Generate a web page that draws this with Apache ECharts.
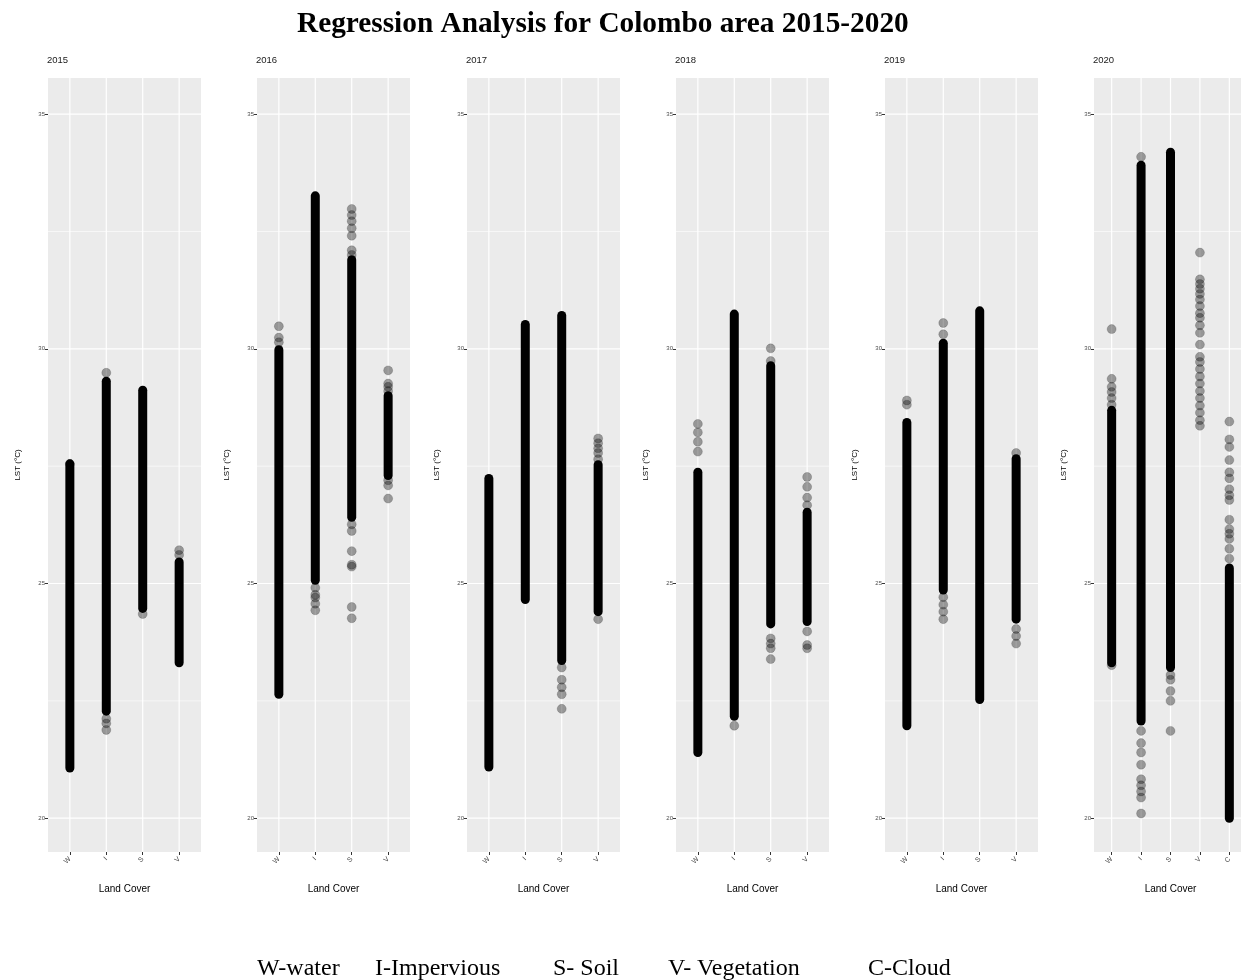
<!DOCTYPE html>
<html><head><meta charset="utf-8">
<script src="https://cdn.jsdelivr.net/npm/echarts@6/dist/echarts.min.js"></script>
<style>html,body{margin:0;padding:0;background:#fff}#c{width:1241px;height:980px}</style>
</head><body><div id="c"></div>
<script>
const mainTitle = 'Regression Analysis for Colombo area 2015-2020';
const years = ['2015','2016','2017','2018','2019','2020'];
const categories = ['W','I','S','V','C'];
const yTicks = [20,25,30,35];
const yMinor = [22.5,27.5,32.5];
const legendItems = ['W-water','I-Impervious','S- Soil','V- Vegetation','C-Cloud'];

// dense runs of points per category: [category index, lowest LST, highest LST]
const core2015 = [[1,21.07,27.55],[2,22.28,29.31],[3,24.47,29.12],[4,23.31,25.46]];
const core2016 = [[1,22.64,29.98],[2,25.07,33.26],[3,26.41,31.9],[4,27.3,29.0]];
const core2017 = [[1,21.09,27.24],[2,24.66,30.52],[3,23.36,30.71],[4,24.4,27.53]];
const core2018 = [[1,21.4,27.37],[2,22.17,30.74],[3,24.14,29.64],[4,24.19,26.52]];
const core2019 = [[1,21.97,28.43],[2,24.86,30.12],[3,22.53,30.81],[4,24.24,27.66]];
const core2020 = [[1,23.31,28.69],[2,22.07,33.91],[3,23.21,34.19],[5,20.0,25.33]];

// isolated points per category (W, I, S, V, C)
const pts2015 = [[27.55],[29.49,22.12,22.02,21.88],[24.35],[25.71,25.61]];
const pts2016 = [[30.48,30.24,30.14],[24.91,24.76,24.7,24.57,24.43],
  [32.98,32.85,32.72,32.57,32.41,32.1,32.0,26.26,26.12,25.69,25.4,25.36,24.5,24.26],
  [29.54,29.26,29.19,29.1,27.2,27.09,26.81]];
const pts2017 = [[],[],[23.21,22.95,22.79,22.64,22.33],[28.09,27.99,27.88,27.78,27.65,24.24]];
const pts2018 = [[28.4,28.22,28.02,27.81],[21.97],[30.01,29.74,23.83,23.72,23.62,23.39],
  [27.27,27.06,26.83,26.67,23.98,23.69,23.62]];
const pts2019 = [[28.9,28.81],[30.55,30.31,24.71,24.55,24.4,24.24],[],[27.78,24.03,23.88,23.72]];
const pts2020 = [[30.42,29.36,29.19,29.08,28.95,28.81,23.26],
  [34.09,21.86,21.6,21.4,21.14,20.83,20.7,20.57,20.44,20.1],
  [23.05,22.95,22.71,22.5,21.86],
  [32.05,31.48,31.38,31.28,31.17,31.05,30.91,30.76,30.66,30.5,30.34,30.09,29.83,29.72,29.57,29.41,29.26,29.1,28.95,28.79,28.64,28.48,28.36],
  [28.45,28.07,27.91,27.63,27.37,27.24,27.01,26.88,26.78,26.36,26.16,26.06,25.95,25.74,25.53]];
const catCounts = [4,4,4,4,4,5];

const cores = [core2015,core2016,core2017,core2018,core2019,core2020];
const points = [pts2015,pts2016,pts2017,pts2018,pts2019,pts2020];

const gridLefts = [48,257,467,676,885,1094];
const gridTop = 78, gridH = 774, gridW = 153;
const Y_MIN = 19.28, Y_MAX = 35.77;

const chart = echarts.init(document.getElementById('c'), null, {renderer:'canvas'});

const grids = [], xAxes = [], yAxes = [], series = [], titles = [];
titles.push({text: mainTitle, left: 297, top: 10, padding: 0,
  textStyle:{fontFamily:'Liberation Serif', fontWeight:'bold', fontSize:29.3, color:'#000'}});

years.forEach((yr, i) => {
  const n = catCounts[i];
  grids.push({left: gridLefts[i], top: gridTop, width: gridW, height: gridH,
    show: true, backgroundColor: '#EBEBEB', borderWidth: 0, outerBoundsMode: 'none', containLabel: false});
  const xVals = categories.slice(0, n).map((c, k) => k + 1);
  xAxes.push({type:'value', gridIndex:i, min:0.4, max:n + 0.6,
    name:'Land Cover', nameLocation:'middle', nameGap:32,
    nameTextStyle:{fontFamily:'Liberation Sans', fontSize:10, color:'#000'},
    axisLine:{show:false}, splitLine:{show:false},
    axisTick:{show:true, customValues:xVals, length:3, lineStyle:{color:'#333', width:1}},
    axisLabel:{show:true, customValues:xVals, rotate:45, fontSize:7, color:'#4d4d4d', margin:6,
      fontFamily:'Liberation Sans', formatter: v => categories[Math.round(v) - 1] || ''}});
  yAxes.push({type:'value', gridIndex:i, min:Y_MIN, max:Y_MAX,
    name:'LST (°C)', nameLocation:'middle', nameRotate:90, nameGap:26,
    nameTextStyle:{fontFamily:'Liberation Sans', fontSize:8, color:'#000'},
    axisLine:{show:false}, splitLine:{show:false},
    axisTick:{show:true, customValues:yTicks, length:3, lineStyle:{color:'#333', width:1}},
    axisLabel:{show:true, customValues:yTicks, fontSize:6, color:'#4d4d4d', margin:3,
      fontFamily:'Liberation Sans'}});
  titles.push({text: yr, left: gridLefts[i] - 1, top: 55, padding: 0,
    textStyle:{fontFamily:'Liberation Sans', fontWeight:'normal', fontSize:9.5, color:'#1a1a1a'}});

  // panel grid lines
  const gl = yTicks.map(v => [0, v]).concat(yMinor.map(v => [1, v])).concat(xVals.map(v => [2, v]));
  series.push({type:'custom', xAxisIndex:i, yAxisIndex:i, z:1, silent:true, data: gl,
    renderItem: (params, api) => {
      const kind = api.value(0), v = api.value(1), cs = params.coordSys;
      if (kind < 2) {
        const y = api.coord([1, v])[1];
        return {type:'line', shape:{x1:cs.x, y1:y, x2:cs.x + cs.width, y2:y},
          style:{stroke:'#fff', lineWidth: kind === 0 ? 1.2 : 0.6}};
      }
      const x = api.coord([v, 25])[0];
      return {type:'line', shape:{x1:x, y1:cs.y, x2:x, y2:cs.y + cs.height},
        style:{stroke:'#fff', lineWidth:1.2}};
    }});

  // dense runs
  series.push({type:'custom', xAxisIndex:i, yAxisIndex:i, z:3, silent:true, data: cores[i],
    encode:{x:0, y:[1,2]},
    renderItem: (params, api) => {
      const p1 = api.coord([api.value(0), api.value(1)]);
      const p2 = api.coord([api.value(0), api.value(2)]);
      return {type:'line', shape:{x1:p1[0], y1:p1[1], x2:p2[0], y2:p2[1]},
        style:{stroke:'#000', lineWidth:9, lineCap:'round'}};
    }});

  // isolated points
  const sd = [];
  points[i].forEach((arr, k) => arr.forEach(v => sd.push([k + 1, v])));
  series.push({type:'scatter', xAxisIndex:i, yAxisIndex:i, z:4, silent:true, data: sd,
    symbol:'circle', symbolSize:9,
    itemStyle:{color:'rgba(0,0,0,0.45)', borderColor:'rgba(0,0,0,0.35)', borderWidth:0.6}});
});

const legendX = [257,375,553,668,868];
const graphics = legendItems.map((t, k) => ({type:'text', left: legendX[k], top: 957,
  style:{text:t, fontFamily:'Liberation Serif', fontSize:24, fill:'#000'}}));

chart.setOption({
  animation:false,
  backgroundColor:'#fff',
  title: titles,
  grid: grids, xAxis: xAxes, yAxis: yAxes, series: series,
  graphic: graphics
});
</script></body></html>
